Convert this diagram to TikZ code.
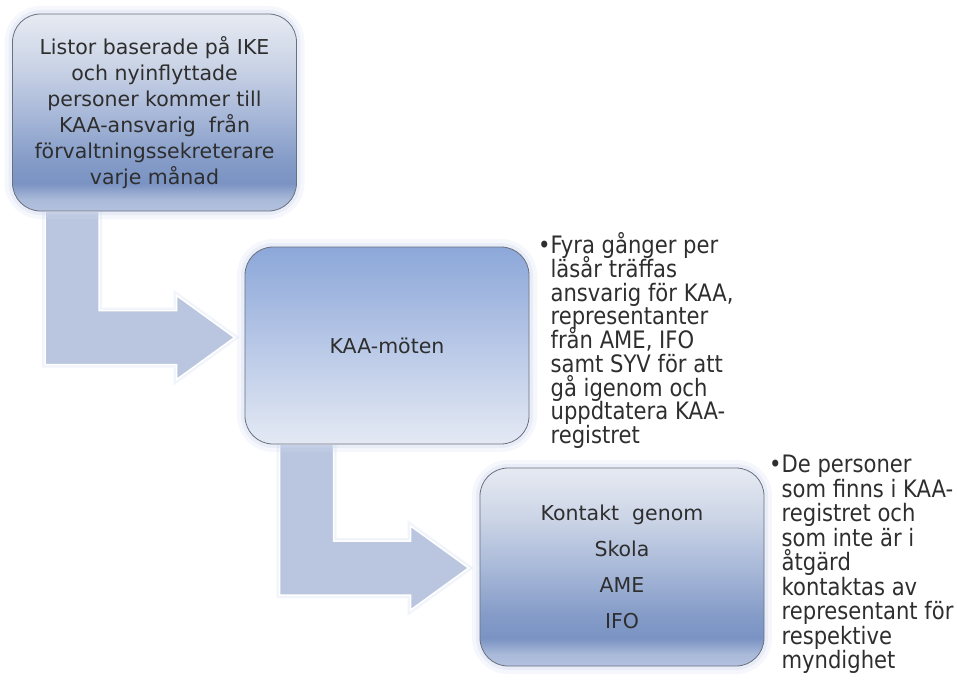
\documentclass[tikz,border=0pt]{standalone}
\usepackage{fontspec}
\setmainfont{DejaVu Sans}
\newfontfamily\notefont{DejaVu Sans}[FakeStretch=0.88]
\usepackage{tikz}
\usetikzlibrary{calc,backgrounds}
\definecolor{arrowfill}{HTML}{BAC6DF}
\definecolor{boxline}{HTML}{6A707E}
\definecolor{glowblue}{HTML}{CFD9EE}
\definecolor{textgray}{HTML}{2E2E2E}
\definecolor{fadetop}{HTML}{E6EAF2}
\definecolor{fadeup}{HTML}{CBD4E6}
\definecolor{fademid}{HTML}{A9B9D9}
\definecolor{fadelow}{HTML}{859CC8}
\definecolor{fadedk}{HTML}{7A93C3}
\definecolor{fadeedge}{HTML}{B4C2DF}
\definecolor{meettop}{HTML}{8CA7D9}
\definecolor{meetbot}{HTML}{E4E9F4}
\pgfdeclareverticalshading{boxfade}{100bp}{color(0bp)=(fadeedge); color(25bp)=(fadeedge); color(28bp)=(fademid); color(32bp)=(fadedk); color(38bp)=(fadelow); color(50bp)=(fademid); color(62bp)=(fadeup); color(75bp)=(fadetop); color(100bp)=(fadetop)}
\def\tightlines{\lineskiplimit-50pt\relax}
\def\bentarrow#1#2{\draw[bigarrow] (#1) -- ++(54,0) |- ($(#2)+(-58,-27)$) -- ++(0,-15) -- (#2) -- ($(#2)+(-58,42)$) -- ++(0,-15) -| (#1) -- cycle}

\begin{document}
\begin{tikzpicture}[x=1pt,y=-1pt,
    stepbox/.style={rectangle, rounded corners=28pt, draw=boxline, line width=0.8pt,
      minimum width=284pt, minimum height=197pt, text=textgray, align=center,
      font=\fontsize{20.5}{26}\selectfont\tightlines,
      preaction={draw=glowblue, line width=16pt, opacity=.2},
      preaction={draw=glowblue, line width=8pt, opacity=.35}},
    note/.style={inner sep=0pt, text=textgray, align=left, anchor=north west,
      font=\notefont\fontsize{24}{23.7}\selectfont\tightlines},
    bigarrow/.style={fill=arrowfill, draw=white, line width=1.5pt,
      preaction={draw=glowblue, line width=6pt, opacity=.3}}]
  \useasboundingbox (0,0) rectangle (957,682);

  \node[stepbox, shade, shading=boxfade] (lists) at (154.5,112.5)
    {Listor baserade på IKE\\och nyinflyttade\\personer kommer till\\KAA-ansvarig~~från\\förvaltningssekreterare\\varje månad};
  \node[stepbox, top color=meettop, bottom color=meetbot] (meeting) at (387,345.5) {KAA-möten};
  \node[stepbox, shade, shading=boxfade, minimum height=198pt, font=\fontsize{20.5}{36}\selectfont] (contact) at (622,567)
    {Kontakt~~genom\\Skola\\AME\\IFO};

  \node[note] (meetnote) at ($(meeting.north east)+(21,-14)$)
    {\rule{0pt}{20pt}\llap{•}Fyra gånger per\\läsår träffas\\ansvarig för KAA,\\representanter\\från AME, IFO\\samt SYV för att\\gå igenom och\\uppdtatera KAA-\\registret};
  \node[note, font=\notefont\fontsize{24}{24.5}\selectfont\tightlines] (contactnote) at ($(contact.north east)+(17,-15)$)
    {\rule{0pt}{20pt}\llap{•}De personer\\som finns i KAA-\\registret och\\som inte är i\\åtgärd\\kontaktas av\\representant för\\respektive\\myndighet};

  \coordinate (from1) at ($(lists.south west)+(33,0)$);
  \coordinate (to1) at ($(meeting.west)+(-10,-8)$);
  \coordinate (from2) at ($(meeting.south west)+(35,0)$);
  \coordinate (to2) at ($(contact.west)+(-11,1)$);
  \begin{scope}[on background layer]
    \bentarrow{from1}{to1};
    \bentarrow{from2}{to2};
  \end{scope}
\end{tikzpicture}
\end{document}
